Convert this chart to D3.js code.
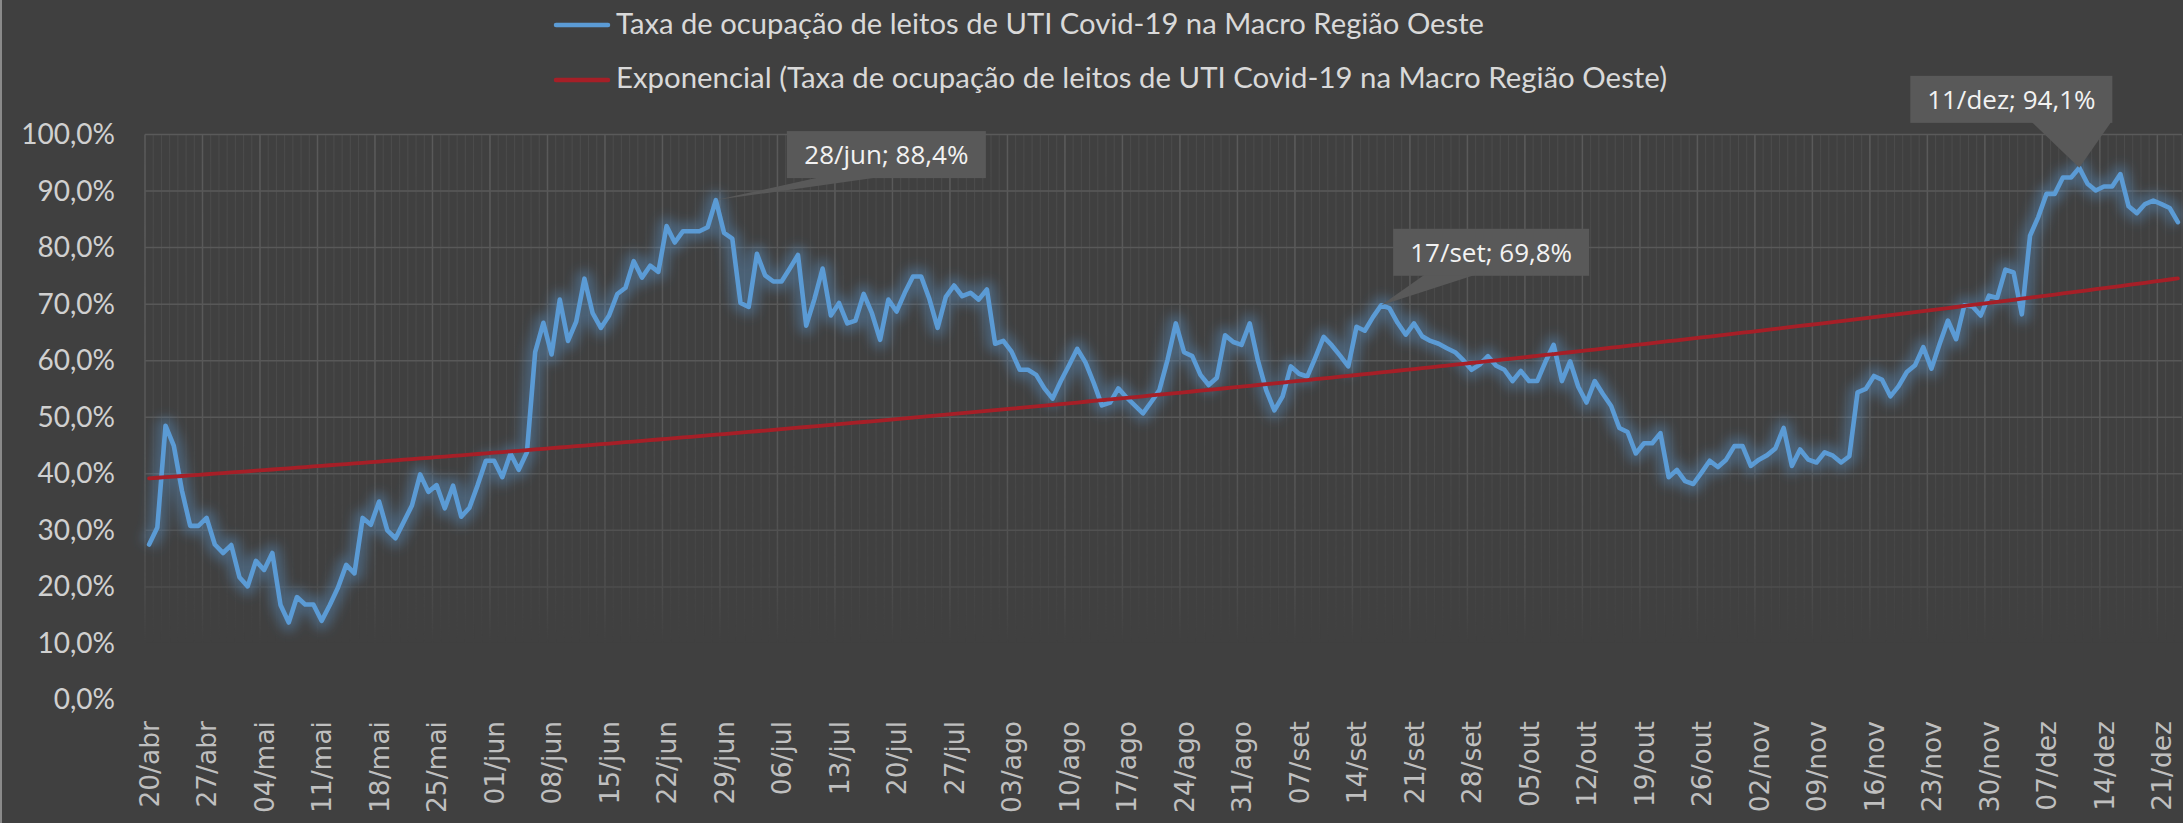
<!DOCTYPE html>
<html><head><meta charset="utf-8">
<script src="https://cdn.jsdelivr.net/npm/d3@7"></script>
<style>html,body{margin:0;padding:0;background:#404040;overflow:hidden}</style>
</head><body>
<svg id="chart" width="2183" height="823"></svg>
<script>
// ---------------- DATA ----------------
const startDate = "2020-04-20";
const monthAbbr = ["jan","fev","mar","abr","mai","jun","jul","ago","set","out","nov","dez"];
const seriesName = "Taxa de ocupação de leitos de UTI Covid-19 na Macro Região Oeste";
const trendName = "Exponencial (Taxa de ocupação de leitos de UTI Covid-19 na Macro Região Oeste)";
// daily occupancy (%), 20/abr .. 23/dez
const occupancy = [
  27.5,30.5,48.5,45.0,37.0,30.8,30.8,32.2,27.5,26.0,27.4,21.7,20.1,24.6,23.0,26.0,16.8,13.7,18.2,16.9,
  16.9,14.0,16.8,19.9,23.9,22.4,32.2,31.0,35.1,30.0,28.6,31.5,34.4,39.9,36.8,38.0,33.9,37.9,32.4,34.0,
  38.0,42.3,42.3,39.4,43.6,40.7,43.8,61.5,66.7,61.1,70.8,63.5,66.9,74.5,68.4,65.8,68.0,71.8,72.9,77.6,
  74.7,76.8,75.7,83.8,80.9,82.9,82.9,82.9,83.6,88.4,82.6,81.6,70.2,69.5,78.9,75.1,74.0,74.0,76.3,78.7,
  66.2,70.9,76.3,68.0,70.2,66.6,67.1,71.8,68.4,63.7,70.8,68.7,72.0,74.9,74.9,70.9,65.8,71.3,73.3,71.4,
  72.0,70.8,72.6,63.0,63.5,61.6,58.4,58.4,57.5,55.1,53.3,56.4,59.2,62.1,59.7,56.1,52.1,52.6,55.1,53.5,
  52.1,50.7,52.7,54.8,60.2,66.6,61.5,60.8,57.5,55.7,57.0,64.5,63.3,62.8,66.6,60.0,54.8,51.2,53.7,59.0,
  57.7,57.2,60.6,64.2,62.7,60.9,59.0,66.0,65.3,67.7,69.8,69.3,66.7,64.6,66.6,64.3,63.5,63.0,62.2,61.5,
  60.1,58.4,59.3,60.8,59.1,58.4,56.4,58.2,56.4,56.4,59.8,62.8,56.4,59.9,55.4,52.6,56.4,54.1,52.0,48.1,
  47.4,43.6,45.4,45.4,47.2,39.4,40.7,38.7,38.2,40.2,42.3,41.2,42.5,44.9,44.9,41.4,42.5,43.3,44.5,48.1,
  41.4,44.3,42.5,42.0,43.8,43.2,42.0,43.1,54.4,55.0,57.3,56.6,53.7,55.5,58.0,59.2,62.4,58.6,63.0,67.1,
  63.8,69.8,69.6,68.0,71.5,71.1,76.1,75.6,68.2,82.1,85.4,89.5,89.5,92.4,92.4,94.1,91.3,90.1,90.8,90.8,
  93.0,87.3,86.1,87.7,88.3,87.7,87.0,84.5
];
const tickLabels = ["20/abr","27/abr","04/mai","11/mai","18/mai","25/mai","01/jun","08/jun","15/jun","22/jun",
  "29/jun","06/jul","13/jul","20/jul","27/jul","03/ago","10/ago","17/ago","24/ago","31/ago","07/set","14/set",
  "21/set","28/set","05/out","12/out","19/out","26/out","02/nov","09/nov","16/nov","23/nov","30/nov","07/dez",
  "14/dez","21/dez"];
const yTicks = [0,0.1,0.2,0.3,0.4,0.5,0.6,0.7,0.8,0.9,1.0];
const labelledDays = ["28/jun","17/set","11/dez"];

// ---------------- LAYOUT ----------------
const W = 2183, H = 823;
const plot = {left:145, right:2182, top:134.5, bottom:700};
const calloutLayout = { // box offset relative to point: dx of box left, dy of box bottom; wedge base fractions
  "28/jun": {dx:71, dy:-22, w:199, h:47, b0:0.17, b1:0.47},
  "17/set": {dx:12, dy:-29.5, w:196, h:47, b0:0.16, b1:0.42},
  "11/dez": {dx:-169, dy:-45, w:202, h:47, b0:0.60, b1:0.995}
};

const parse = d3.timeParse("%Y-%m-%d");
const d0 = parse(startDate);
const fmtDay = d => d3.timeFormat("%d")(d) + "/" + monthAbbr[d.getMonth()];
const categories = occupancy.map((v,i) => fmtDay(d3.timeDay.offset(d0, i)));
const data = categories.map((c,i) => ({cat:c, v: occupancy[i]/100}));

const locale = d3.formatLocale({decimal:",", thousands:".", grouping:[3], currency:["R$",""], percent:"%"});
const pct = locale.format(".1%");

const svg = d3.select("#chart");
svg.append("rect").attr("width",W).attr("height",H).attr("fill","#404040");
svg.append("rect").attr("x",0).attr("y",0).attr("width",2).attr("height",H).attr("fill","#8a8a8a");

const x = d3.scaleBand().domain(categories).range([plot.left, plot.right]).padding(0);
const y = d3.scaleLinear().domain([0,1]).range([plot.bottom, plot.top]);
const cx = c => x(c) + x.bandwidth()/2;

const defs = svg.append("defs");
const grad = defs.append("linearGradient").attr("id","fade").attr("gradientUnits","userSpaceOnUse")
  .attr("x1",0).attr("x2",0).attr("y1",plot.top).attr("y2",plot.bottom);
[[0,1],[0.55,0.9],[0.8,0.5],[0.9,0]].forEach(([o,a]) => grad.append("stop").attr("offset",o).attr("stop-color","#fff").attr("stop-opacity",a));
defs.append("mask").attr("id","gridMask").attr("maskUnits","userSpaceOnUse")
  .append("rect").attr("x",0).attr("y",0).attr("width",W).attr("height",H).attr("fill","url(#fade)");
defs.append("filter").attr("id","glow").attr("x","-5%").attr("y","-20%").attr("width","110%").attr("height","140%")
  .append("feGaussianBlur").attr("stdDeviation",5.5);

// gridlines
const grid = svg.append("g").attr("mask","url(#gridMask)");
const bounds = categories.map(c => x(c)).concat([plot.right]);
grid.selectAll("line.minor").data(bounds).join("line")
  .attr("x1",d=>d).attr("x2",d=>d).attr("y1",plot.top).attr("y2",plot.bottom)
  .attr("stroke","#4c4c4c").attr("stroke-width",1);
grid.selectAll("line.major").data(tickLabels).join("line")
  .attr("x1",d=>x(d)).attr("x2",d=>x(d)).attr("y1",plot.top).attr("y2",plot.bottom)
  .attr("stroke","#5a5a5a").attr("stroke-width",1.5);
grid.selectAll("line.h").data(yTicks).join("line")
  .attr("x1",plot.left).attr("x2",plot.right).attr("y1",d=>y(d)).attr("y2",d=>y(d))
  .attr("stroke","#5a5a5a").attr("stroke-width",1.5);

// axes
const yAxis = svg.append("g").attr("transform",`translate(${plot.left-30},0)`)
  .call(d3.axisLeft(y).tickValues(yTicks).tickFormat(pct).tickSize(0).tickPadding(0));
yAxis.select(".domain").remove();
yAxis.selectAll("text").attr("fill","#d0d0d0").style("font-family","Lato, 'Noto Sans', sans-serif").style("font-size","28px");

const xAxis = svg.append("g").attr("transform",`translate(0,${plot.bottom})`)
  .call(d3.axisBottom(x).tickValues(tickLabels).tickSize(0));
xAxis.select(".domain").remove();
xAxis.selectAll("text").attr("fill","#bfbfbf")
  .style("font-family","'DejaVu Sans', Verdana, sans-serif").style("font-size","26.5px")
  .attr("transform","rotate(-90)").attr("x",-21).attr("y",0).attr("dy","0.36em").style("text-anchor","end");

// series line + glow
const line = d3.line().x(d=>cx(d.cat)).y(d=>y(d.v)).curve(d3.curveLinear);
svg.append("path").datum(data).attr("d",line).attr("fill","none").attr("stroke","#5b9bd5")
  .attr("stroke-width",18).attr("stroke-opacity",0.36).attr("stroke-linejoin","round").attr("filter","url(#glow)");
svg.append("path").datum(data).attr("d",line).attr("fill","none").attr("stroke","#5b9bd5")
  .attr("stroke-width",4.6).attr("stroke-linejoin","round").attr("stroke-linecap","round");

// exponential trendline (least squares on ln y, x = 1..n as Excel does)
const n = data.length;
const xs = d3.range(1,n+1), ls = data.map(d=>Math.log(d.v));
const mx = d3.mean(xs), ml = d3.mean(ls);
const b = d3.sum(xs,(xi,i)=>(xi-mx)*(ls[i]-ml)) / d3.sum(xs,xi=>(xi-mx)*(xi-mx));
const a = Math.exp(ml - b*mx);
const trend = data.map((d,i)=>({cat:d.cat, v:a*Math.exp(b*(i+1))}));
svg.append("path").datum(trend).attr("d",line).attr("fill","none").attr("stroke","#a61f27")
  .attr("stroke-width",3.8).attr("stroke-linecap","round");

// callouts
labelledDays.forEach(c => {
  const d = data.find(e=>e.cat===c), L = calloutLayout[c];
  const px = cx(c), py = y(d.v);
  const bx = px + L.dx, bb = py + L.dy, bt = bb - L.h;
  const g = svg.append("g");
  g.append("path").attr("d",`M${bx+L.b0*L.w},${bb-1}L${px},${py}L${bx+L.b1*L.w},${bb-1}Z`).attr("fill","#595959");
  g.append("rect").attr("x",bx).attr("y",bt).attr("width",L.w).attr("height",L.h).attr("fill","#595959");
  g.append("text").attr("x",bx+L.w/2).attr("y",bt+L.h/2).attr("dy","0.36em").attr("text-anchor","middle")
    .attr("fill","#f2f2f2").style("font-family","'Open Sans', 'Noto Sans', sans-serif").style("font-size","26px")
    .text(`${c}; ${pct(d.v)}`);
});

// legend
const leg = svg.append("g");
[[seriesName,"#5b9bd5",25,34,868],[trendName,"#a61f27",80,88,1051]].forEach(([t,col,ly,by,tw]) => {
  leg.append("line").attr("x1",556).attr("x2",608).attr("y1",ly).attr("y2",ly)
    .attr("stroke",col).attr("stroke-width",4.5).attr("stroke-linecap","round");
  const tx = leg.append("text").attr("x",616).attr("y",by).attr("fill","#d9d9d9")
    .style("font-family","Lato, 'Noto Sans', sans-serif").style("font-size","28px").text(t);
  const L0 = tx.node().getComputedTextLength();
  if (Math.abs(L0 - tw) > 4) tx.attr("textLength",tw).attr("lengthAdjust","spacingAndGlyphs");
});
</script>
</body></html>
